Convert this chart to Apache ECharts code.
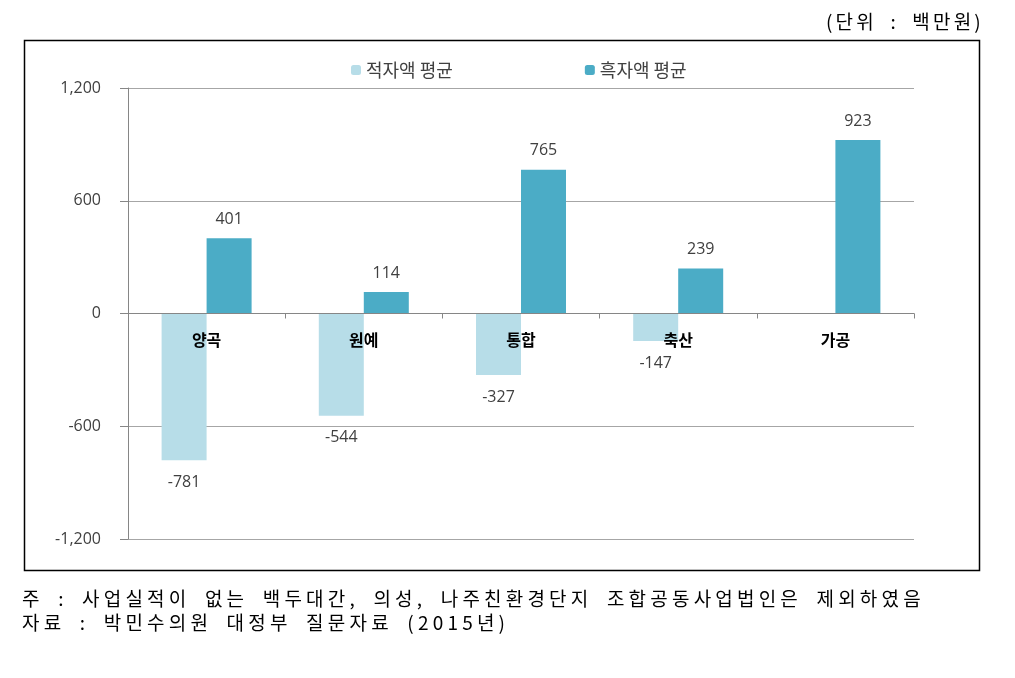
<!DOCTYPE html>
<html><head><meta charset="utf-8">
<script src="https://cdn.jsdelivr.net/npm/echarts@6/dist/echarts.min.js"></script>
<style>
html,body{margin:0;padding:0;background:#fff}
#wrap{position:relative;width:1015px;height:678px}
#c{width:1015px;height:678px}
.t{position:absolute;font-family:"Noto Sans CJK KR",sans-serif;font-size:19px;color:#000;white-space:nowrap;letter-spacing:4.2px;word-spacing:6px;line-height:24px}
</style>
</head><body><div id="wrap"><div id="c"></div>
<div class="t" id="unit" style="right:31px;top:9px;letter-spacing:3.2px;"></div>
<div class="t" id="note" style="left:22px;top:586px;"></div>
</div>
<script>
const categories = ['양곡', '원예', '통합', '축산', '가공'];
const deficitAvg = [-781, -544, -327, -147, null];
const surplusAvg = [401, 114, 765, 239, 923];
const seriesNames = ['적자액 평균', '흑자액 평균'];
const yTicks = { min: -1200, max: 1200, interval: 600 };
const unitText = '(단위 : 백만원)';
const noteLines = ['주 : 사업실적이 없는 백두대간, 의성, 나주친환경단지 조합공동사업법인은 제외하였음', '자료 : 박민수의원 대정부 질문자료 (2015년)'];

document.getElementById('unit').textContent = unitText;
document.getElementById('note').innerHTML = noteLines.map(s => s.replace(/&/g,'&amp;').replace(/</g,'&lt;')).join('<br>');

const KR = '"Noto Sans CJK KR", sans-serif';
const NUM = '"Open Sans", "Noto Sans", sans-serif';
const chart = echarts.init(document.getElementById('c'));
chart.setOption({
  animation: false,
  backgroundColor: '#fff',
  legend: {
    top: 56, left: 346, itemWidth: 10, itemHeight: 10, itemGap: 132,
    textStyle: { fontFamily: KR, fontSize: 18, color: '#404040' },
    data: seriesNames
  },
  grid: { left: 128, right: 101, top: 88, bottom: 139 },
  xAxis: {
    type: 'category', data: categories, offset: -225.5, z: 10,
    axisLine: { onZero: false, lineStyle: { color: '#868686', width: 1 } },
    axisTick: { show: true, length: 5, lineStyle: { color: '#868686' } },
    axisLabel: { margin: 18, fontFamily: KR, fontSize: 16, fontWeight: 'bold', color: '#000' }
  },
  yAxis: {
    type: 'value', min: yTicks.min, max: yTicks.max, interval: yTicks.interval,
    axisLine: { show: true, lineStyle: { color: '#868686' } },
    axisTick: { show: true, length: 8, lineStyle: { color: '#868686' } },
    splitLine: { lineStyle: { color: '#a6a6a6' } },
    axisLabel: { margin: 27, fontFamily: NUM, fontSize: 16, color: '#404040',
      formatter: v => v.toLocaleString('en-US') }
  },
  series: [
    { name: seriesNames[0], type: 'bar', data: deficitAvg, barWidth: 45, barGap: '0%',
      itemStyle: { color: '#b7dde8' },
      label: { show: true, position: 'bottom', distance: 14, fontFamily: NUM, fontSize: 16, color: '#404040' } },
    { name: seriesNames[1], type: 'bar', data: surplusAvg, barWidth: 45, barGap: '0%',
      itemStyle: { color: '#4bacc6' },
      label: { show: true, position: 'top', distance: 11, fontFamily: NUM, fontSize: 16, color: '#404040' } }
  ],
  graphic: [
    { type: 'rect', shape: { x: 24.5, y: 40.5, width: 955, height: 530 }, silent: true,
      style: { fill: 'none', stroke: '#000', lineWidth: 1.5 }, z: -1 }
  ]
});
</script></body></html>
